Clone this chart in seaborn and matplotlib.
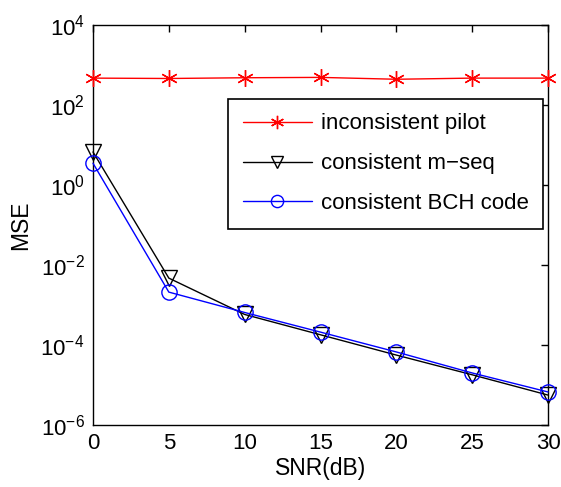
import numpy as np
import pandas as pd
from matplotlib import pyplot as plt
import seaborn as sns

snr = [0, 5, 10, 15, 20, 25, 30]
mse_pilot = [470, 460, 480, 490, 440, 470, 470]
mse_mseq = [6.7, 4.7e-3, 5.8e-4, 1.8e-4, 5.6e-5, 1.8e-5, 5.6e-6]
mse_bch = [3.5, 2.1e-3, 6.5e-4, 2.1e-4, 6.7e-5, 2.0e-5, 6.7e-6]
labels = ['inconsistent pilot', 'consistent m\u2212seq', 'consistent BCH code']

sns.set_theme(style='white')
plt.rcParams['font.family'] = ['Liberation Sans', 'DejaVu Sans']
plt.rcParams['mathtext.fontset'] = 'custom'
plt.rcParams['mathtext.rm'] = 'Liberation Sans'
plt.rcParams['text.color'] = 'black'
plt.rcParams['axes.labelcolor'] = 'black'

df = pd.DataFrame({
    'SNR': snr * 3,
    'MSE': mse_pilot + mse_mseq + mse_bch,
    'curve': [labels[0]] * 7 + [labels[1]] * 7 + [labels[2]] * 7,
})

fig = plt.figure(figsize=(5.61, 4.87), dpi=100)
ax = fig.add_axes([93 / 561, 62 / 487, 455 / 561, 400 / 487])

colors = ['#ff0000', '#000000', '#0000ff']
markers = [(6, 2, 0), 'v', 'o']
sizes = [12, 11, 11]
for lab, c, m, ms in zip(labels, colors, markers, sizes):
    d = df[df['curve'] == lab]
    sns.lineplot(data=d, x='SNR', y='MSE', ax=ax, color=c, lw=1,
                 marker=m, markersize=ms,
                 markerfacecolor='none', markeredgecolor=c, markeredgewidth=1,
                 label=lab, clip_on=False, zorder=3)

ax.set_yscale('log')
ax.set_xlim(0, 30)
ax.set_ylim(1e-6, 1e4)
ax.set_xticks(snr)
ax.set_yticks([1e-6, 1e-4, 1e-2, 1e0, 1e2, 1e4])
ax.set_yticklabels([r'$10^{-6}$', r'$10^{-4}$', r'$10^{-2}$', r'$10^{0}$', r'$10^{2}$', r'$10^{4}$'])
ax.minorticks_off()
ax.tick_params(direction='in', length=5, width=1, top=True, right=True,
               labelsize=16, colors='black', pad=6)
for s in ax.spines.values():
    s.set_color('black')
    s.set_linewidth(1)
    s.set_zorder(2)
ax.set_xlabel('SNR(dB)', fontsize=16.5, labelpad=2)
ax.set_ylabel('MSE', fontsize=16.5, labelpad=6)

leg = ax.legend(loc='upper right', bbox_to_anchor=(0.989, 0.815), fontsize=16,
                frameon=True, fancybox=False, edgecolor='black', framealpha=1,
                handlelength=3.1, handletextpad=0.4, labelspacing=0.85,
                borderpad=0.65, borderaxespad=0, markerscale=0.8)
leg.get_frame().set_linewidth(1.2)

fig.savefig('out.png', dpi=100)
